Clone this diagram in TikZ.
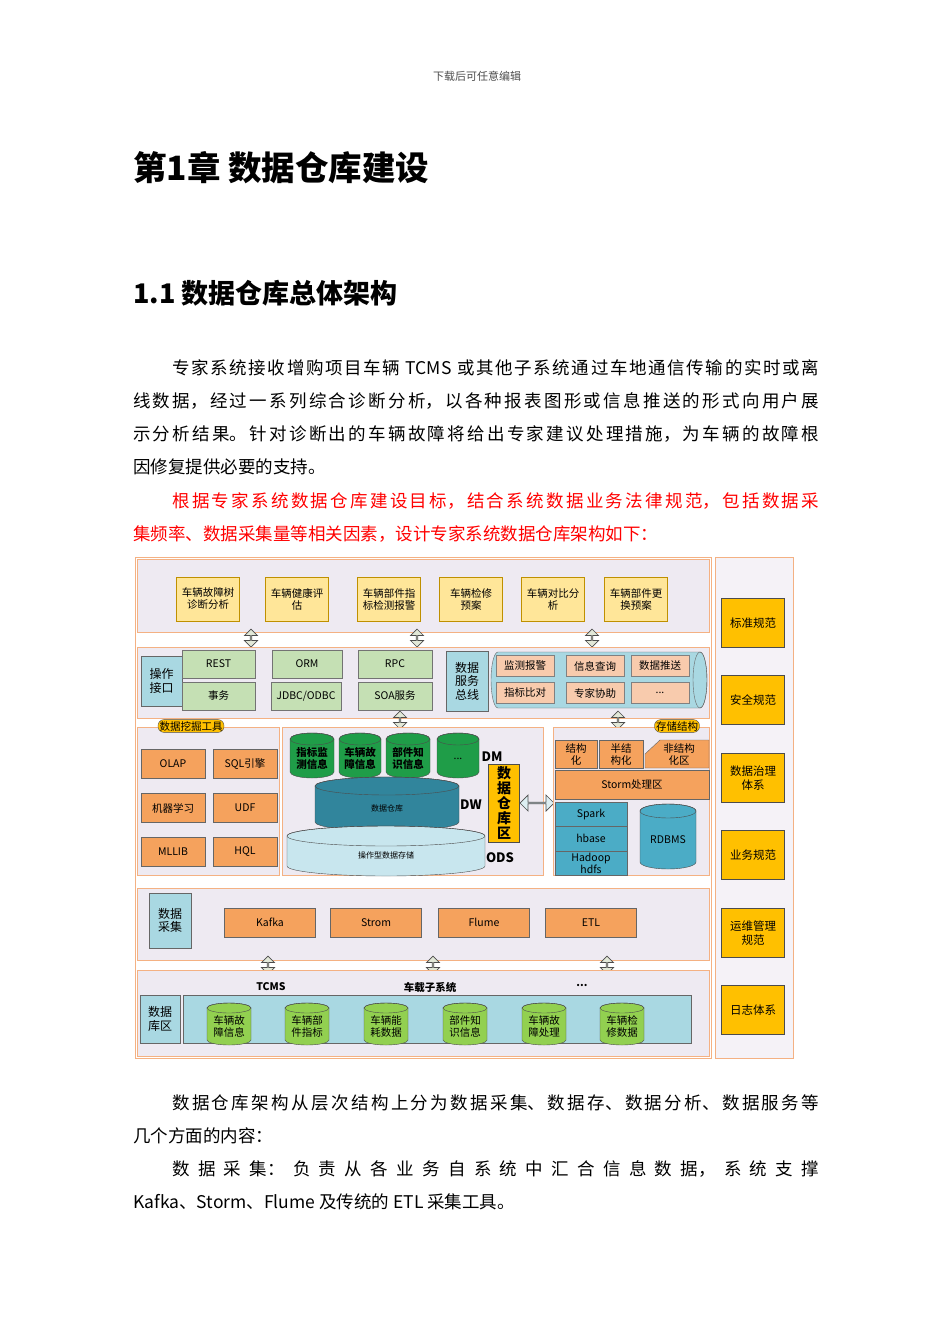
\documentclass[tikz,border=0pt]{standalone}
\usepackage{fontspec}
\setmainfont{Noto Sans CJK SC}
\usetikzlibrary{shapes.arrows}
\definecolor{bandfill}{HTML}{EEEAF2}
\definecolor{bandline}{HTML}{F4B183}
\definecolor{ylw}{HTML}{FFE699}
\definecolor{ylwd}{HTML}{BF9000}
\definecolor{grn}{HTML}{C5E0B4}
\definecolor{org}{HTML}{F5A25D}
\definecolor{orgl}{HTML}{F8CBAD}
\definecolor{lblue}{HTML}{A9D8E2}
\definecolor{teal}{HTML}{31859C}
\definecolor{sblue}{HTML}{4BACC6}
\definecolor{gold}{HTML}{FFC000}
\definecolor{dgreen}{HTML}{1F9D48}
\definecolor{lgreen}{HTML}{92D050}
\definecolor{pale}{HTML}{C8E6EE}
\definecolor{arrf}{HTML}{E2E8D8}
\newcommand\dfont{\fontsize{10.5}{12}\selectfont}
\newcommand\tdots{...}
\newcommand\cyl[8]{% name, cx, ytop, ybot, rx, ry, fill, text
  \fill[#7,draw=black!70] (#2-#5,#3) -- (#2-#5,#4) arc[start angle=180,end angle=0,x radius=#5,y radius=#6] -- (#2+#5,#3) arc[start angle=0,end angle=-180,x radius=#5,y radius=#6] -- cycle;
  \draw[black!70] (#2,#3) ellipse[x radius=#5,y radius=#6];
  \node[align=center,font=\dfont,inner sep=0] (#1) at (#2,{(#3+#4)/2+#6/2}) {#8};}
\tikzset{
  band/.style={draw=bandline,fill=bandfill,line width=0.8pt},
  bx/.style={draw=black!65,align=center,font=\dfont,inner sep=1pt},
  ybx/.style={bx,fill=ylw,draw=ylwd},
  gbx/.style={bx,fill=grn,draw=black!55},
  obx/.style={bx,fill=org,draw=black!60},
  pbx/.style={bx,fill=orgl,draw=black!50},
  lbx/.style={bx,fill=lblue,draw=black!60,font=\fontsize{12}{13.5}\selectfont},
  gobx/.style={bx,fill=gold,draw=black!70,font=\fontsize{11.5}{13.5}\selectfont},
  darr/.style={double arrow,draw=black!70,fill=arrf,minimum width=13pt,minimum height=18pt,inner sep=0,double arrow head extend=2.5pt,rotate=90,line width=0.7pt},
  tag/.style={draw=black!70,fill=gold,rounded corners=6pt,font=\dfont,inner sep=1.5pt}
}
\begin{document}
\begin{tikzpicture}[x=1pt,y=-1pt]
\useasboundingbox (0,0) rectangle (950,1344);
\node[font=\fontsize{11}{12}\selectfont,text=black!70] (hdr) at (477,76) {下载后可任意编辑};
\node[anchor=west,font=\fontsize{33.5}{36}\selectfont\bfseries,inner sep=0] (h1) at (133,168) {第1章\ 数据仓库建设};
\node[anchor=west,font=\fontsize{27}{30}\selectfont\bfseries,inner sep=0] (h2) at (133,293) {1.1 数据仓库总体架构};
\node[anchor=base west,inner sep=0] (p1) at (133,374) {\parbox[t]{686pt}{\fontsize{17.5}{33.3}\selectfont\XeTeXlinebreaklocale "zh"\XeTeXlinebreakskip=0pt plus 2pt\parindent=0pt
\hspace*{39pt}专家系统接收增购项目车辆 TCMS 或其他子系统通过车地通信传输的实时或离\linebreak 线数据，经过一系列综合诊断分析，以各种报表图形或信息推送的形式向用户展\linebreak 示分析结果。针对诊断出的车辆故障将给出专家建议处理措施，为车辆的故障根\linebreak 因修复提供必要的支持。\par
\color{red}\hspace*{39pt}根据专家系统数据仓库建设目标，结合系统数据业务法律规范，包括数据采\linebreak 集频率、数据采集量等相关因素，设计专家系统数据仓库架构如下：\par}};
\node[anchor=base west,inner sep=0] (p2) at (133,1109) {\parbox[t]{686pt}{\fontsize{17.5}{33.3}\selectfont\XeTeXlinebreaklocale "zh"\XeTeXlinebreakskip=0pt plus 8pt\parindent=0pt
\hspace*{39pt}数据仓库架构从层次结构上分为数据采集、数据存、数据分析、数据服务等\linebreak 几个方面的内容：\par
\hspace*{39pt}数据采集：负责从各业务自系统中汇合信息数据，系统支撑\linebreak Kafka、Storm、Flume 及传统的 ETL 采集工具。\par}};
% outer frames
\draw[bandline,line width=0.8pt] (135,557) rectangle (711,1058);
\draw[band,fill=bandfill!60] (715,557) rectangle (793,1058);
% band 1
\draw[band] (137,559) rectangle (709,632);
\foreach \x/\t [count=\i] in {208/车辆故障树\\诊断分析,297/车辆健康评\\估,389/车辆部件指\\标检测报警,471/车辆检修\\预案,553/车辆对比分\\析,636/车辆部件更\\换预案}
  \node[ybx,minimum width=63pt,minimum height=44pt] (a\i) at (\x,599) {\t};
\foreach \x [count=\i] in {251,417,592} \node[darr] (d1\i) at (\x,638) {};
% band 2
\draw[band] (137,647) rectangle (709,718);
\node[lbx,minimum width=41pt,minimum height=50pt] (op) at (161.5,681) {操作\\接口};
\node[gbx,minimum width=73pt,minimum height=28pt] (rest) at (218.5,664) {REST};
\node[gbx,minimum width=73pt,minimum height=28pt] (sw) at (218.5,696) {事务};
\node[gbx,minimum width=70pt,minimum height=28pt] (orm) at (307,664) {ORM};
\node[gbx,minimum width=70pt,minimum height=28pt] (jdbc) at (306,696) {JDBC/ODBC};
\node[gbx,minimum width=74pt,minimum height=28pt] (rpc) at (395,664) {RPC};
\node[gbx,minimum width=74pt,minimum height=28pt] (soa) at (395,696) {SOA服务};
\node[lbx,minimum width=42pt,minimum height=60pt] (bus) at (467,681) {数据\\服务\\总线};
\fill[lblue,draw=black!60] (498,652) -- (700,652) arc[start angle=-90,end angle=90,x radius=7,y radius=28] -- (498,708) arc[start angle=90,end angle=270,x radius=7,y radius=28] -- cycle;
\draw[black!60] (700,680) ellipse[x radius=7,y radius=28];
\foreach \x/\y/\t [count=\i] in {525/666/监测报警,595/666/信息查询,660/666/数据推送,525/693/指标比对,595/693/专家协助,660/693/\tdots}
  \node[pbx,minimum width=58pt,minimum height=21pt] (s\i) at (\x,\y) {\t};
\foreach \x [count=\i] in {400,618} \node[darr] (d2\i) at (\x,720) {};
% band 3 left
\draw[band] (137,727) rectangle (279,875);
\node[tag] (mine) at (191,726) {数据挖掘工具};
\foreach \x/\y/\t [count=\i] in {173/764/OLAP,245/764/SQL引擎,173/808/机器学习,245/808/UDF,173/852/MLLIB,245/852/HQL}
  \node[obx,minimum width=64pt,minimum height=29pt] (m\i) at (\x,\y) {\t};
% band 3 middle
\draw[band] (282,727) rectangle (543,875);
\cyl{c1}{312}{739}{772}{22}{6}{dgreen}{\textbf{指标监}\\\textbf{测信息}}
\cyl{c2}{360}{739}{772}{21}{6}{dgreen}{\textbf{车辆故}\\\textbf{障信息}}
\cyl{c3}{408}{739}{772}{22}{6}{dgreen}{\textbf{部件知}\\\textbf{识信息}}
\cyl{c4}{458}{739}{772}{21}{6}{dgreen}{\tdots}
\cyl{dw}{387}{786}{822}{72}{9}{teal}{\\[-6pt]\fontsize{8}{9}\selectfont 数据仓库}
\cyl{ods}{386}{836}{866}{99}{10}{pale}{\\[-6pt]\fontsize{8}{9}\selectfont 操作型数据存储}
\node[font=\fontsize{13}{14}\selectfont\bfseries,inner sep=0] (dml) at (492,757) {DM};
\node[font=\fontsize{13}{14}\selectfont\bfseries,inner sep=0] (dwl) at (471,805) {DW};
\node[font=\fontsize{13}{14}\selectfont\bfseries,inner sep=0] (odsl) at (500,858) {ODS};
\node[draw=black!70,fill=gold,minimum width=31pt,minimum height=78pt,align=center,inner sep=0,font=\fontsize{14}{15}\selectfont\bfseries] (dwa) at (504,803) {数\\据\\仓\\库\\区};
\node[double arrow,draw=black!70,fill=lblue!40,minimum width=16pt,minimum height=34pt,inner sep=0,double arrow head extend=3pt,line width=0.7pt] (harr) at (537,803) {};
% band 3 right
\draw[band] (553,727) rectangle (709,875);
\node[tag] (stor) at (677,726) {存储结构};
\node[obx,minimum width=42pt,minimum height=28pt] (st1) at (576,754) {结构\\化};
\node[obx,minimum width=44pt,minimum height=28pt] (st2) at (621,754) {半结\\构化};
\fill[org,draw=black!60] (645,754) -- (660,740) -- (709,740) -- (709,768) -- (645,768) -- cycle;
\node[font=\dfont,align=center,inner sep=0] (st3) at (679,754) {非结构\\化区};
\node[obx,minimum width=154pt,minimum height=29pt] (storm) at (632,784.5) {Storm处理区};
\node[bx,fill=sblue,draw=black!60,minimum width=72pt,minimum height=24pt] (spark) at (591,814.5) {Spark};
\node[bx,fill=sblue,draw=black!60,minimum width=72pt,minimum height=25pt] (hb) at (591,838.5) {hbase};
\node[bx,fill=sblue,draw=black!60,minimum width=72pt,minimum height=24pt,font=\fontsize{10.5}{9}\selectfont] (hd) at (591,863) {Hadoop\\hdfs};
\cyl{rdb}{668}{811}{862}{28}{7}{sblue}{RDBMS}
% band 4
\draw[band] (137,888) rectangle (709,960);
\node[lbx,minimum width=42pt,minimum height=55pt] (acq) at (170,920.5) {数据\\采集};
\foreach \x/\t [count=\i] in {270/Kafka,376/Strom,484/Flume,591/ETL}
  \node[obx,minimum width=91pt,minimum height=29pt] (k\i) at (\x,922.5) {\t};
\foreach \x [count=\i] in {268,433,607} \node[darr] (d3\i) at (\x,965) {};
% band 5
\draw[band] (137,970) rectangle (709,1056);
\node[font=\dfont\bfseries] (tc) at (271,987) {TCMS};
\node[font=\dfont\bfseries] (cz) at (430,987) {车载子系统};
\node[font=\dfont\bfseries] (dots) at (582,985) {\tdots};
\node[lbx,minimum width=40pt,minimum height=48pt] (dbz) at (160,1019) {数据\\库区};
\draw[black!60,fill=lblue] (183,995) rectangle (691,1043);
\foreach \x/\t [count=\i] in {229/车辆故\\障信息,307/车辆部\\件指标,386/车辆能\\耗数据,465/部件知\\识信息,544/车辆故\\障处理,622/车辆检\\修数据}
  \cyl{b\i}{\x}{1008}{1040}{22}{5}{lgreen}{\t}
% right column
\foreach \y/\t [count=\i] in {623/标准规范,700/安全规范,778/数据治理\\体系,855/业务规范,933/运维管理\\规范,1010/日志体系}
  \node[gobx,minimum width=63pt,minimum height=49pt,align=center] (r\i) at (753,\y) {\t};
\end{tikzpicture}
\end{document}
